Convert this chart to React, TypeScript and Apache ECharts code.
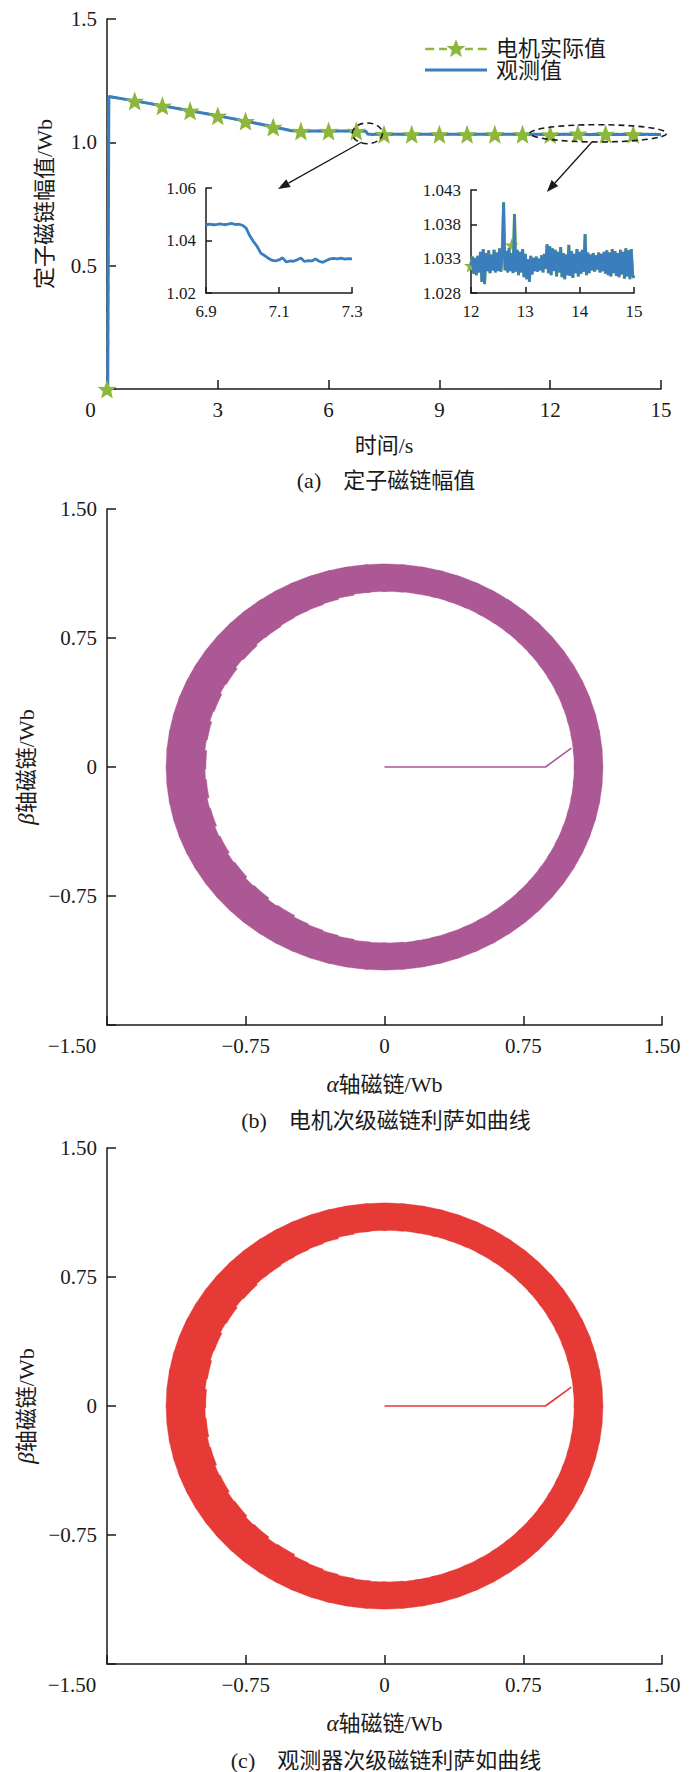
import React, { useEffect, useRef } from 'react';
import * as echarts from 'echarts';

const SERIF = "'Liberation Serif', 'Noto Sans CJK SC', serif";
const INK = '#1a1a1a';
const BLUE = '#3A7EBE';
const GREEN = '#8CB63C';
const PURPLE = '#AC5894';
const RED = '#E53A36';

// ---------- (a) stator flux magnitude ----------
const legendNames = ['电机实际值', '观测值'];
const mainXTicks = [0, 3, 6, 9, 12, 15];
const mainYTicks = [0, 0.5, 1.0, 1.5];

// observed (blue) – coarse head part
const obsHeadT = [0, 0.02, 0.05, 0.75, 1.5, 2.25, 3.0, 3.75, 4.5, 5.0, 5.5, 6.0, 6.5];
const obsHeadV = [0, 0, 1.186, 1.168, 1.148, 1.128, 1.108, 1.086, 1.063, 1.047, 1.046, 1.046, 1.046];
// observed between the two zoomed windows
const obsMidT = [7.6, 8.6, 9.6, 10.6, 11.6];
const obsMidV = [1.0331, 1.0329, 1.0331, 1.033, 1.0329];

// zoom window 1 (6.9 – 7.3 s), sampled every 0.01 s
const zoom1Start = 6.9;
const zoom1Step = 0.01;
const zoom1V = [
  1.0460, 1.0462, 1.0460, 1.0461, 1.0463, 1.0460, 1.0462, 1.0465, 1.0461, 1.0462,
  1.0458, 1.0447, 1.0418, 1.0396, 1.0378, 1.0352, 1.0343, 1.0333, 1.0325, 1.0322,
  1.0326, 1.0334, 1.0318, 1.0322, 1.0321, 1.0327, 1.0333, 1.0320, 1.0323, 1.0322,
  1.0330, 1.0321, 1.0317, 1.0324, 1.0330, 1.0332, 1.0330, 1.0333, 1.0329, 1.0331,
  1.0330,
];
const zoom1XTicks = [6.9, 7.1, 7.3];
const zoom1YTicks = [1.02, 1.04, 1.06];

// zoom window 2 (12 – 15 s), sampled every 0.025 s
const zoom2Start = 12;
const zoom2Step = 0.025;
const zoom2V = [
  1.0320, 1.0333, 1.0308, 1.0331, 1.0306, 1.0334, 1.0310, 1.0340, 1.0296, 1.0344,
  1.0293, 1.0338, 1.0312, 1.0342, 1.0309, 1.0336, 1.0313, 1.0343, 1.0310, 1.0339,
  1.0312, 1.0345, 1.0311, 1.0337, 1.0412, 1.0313, 1.0341, 1.0310, 1.0345, 1.0312,
  1.0338, 1.0309, 1.0395, 1.0311, 1.0343, 1.0306, 1.0340, 1.0310, 1.0344, 1.0303,
  1.0337, 1.0300, 1.0329, 1.0296, 1.0334, 1.0307, 1.0331, 1.0312, 1.0333, 1.0311,
  1.0330, 1.0313, 1.0335, 1.0310, 1.0337, 1.0315, 1.0351, 1.0309, 1.0348, 1.0306,
  1.0345, 1.0312, 1.0343, 1.0304, 1.0340, 1.0310, 1.0347, 1.0303, 1.0338, 1.0300,
  1.0336, 1.0306, 1.0350, 1.0305, 1.0341, 1.0302, 1.0337, 1.0309, 1.0344, 1.0304,
  1.0340, 1.0308, 1.0343, 1.0311, 1.0366, 1.0306, 1.0339, 1.0309, 1.0336, 1.0313,
  1.0338, 1.0311, 1.0335, 1.0314, 1.0339, 1.0310, 1.0337, 1.0312, 1.0340, 1.0308,
  1.0342, 1.0306, 1.0339, 1.0304, 1.0344, 1.0309, 1.0341, 1.0305, 1.0338, 1.0303,
  1.0343, 1.0307, 1.0340, 1.0301, 1.0345, 1.0304, 1.0342, 1.0300, 1.0344, 1.0306,
  1.0302,
];
const zoom2XTicks = [12, 13, 14, 15];
const zoom2YTicks = [1.028, 1.033, 1.038, 1.043];

// actual (green) – dashed line and star markers
const actualT = [0, 0.02, 0.05, 0.75, 1.5, 2.25, 3.0, 3.75, 4.5, 5.0, 5.25, 6.0, 6.75, 7.0, 7.1, 7.5, 9.0, 12.0, 15.0];
const actualV = [0, 0, 1.186, 1.168, 1.148, 1.128, 1.108, 1.086, 1.062, 1.047, 1.046, 1.046, 1.046, 1.045, 1.033, 1.033, 1.033, 1.032, 1.033];
const starT = [0, 0.75, 1.5, 2.25, 3.0, 3.75, 4.5, 5.25, 6.0, 6.75, 7.5, 8.25, 9.0, 9.75, 10.5, 11.25, 12.0, 12.75, 13.5, 14.25];
const starV = [0, 1.168, 1.148, 1.128, 1.108, 1.086, 1.062, 1.046, 1.046, 1.046, 1.033, 1.033, 1.033, 1.033, 1.033, 1.033, 1.032, 1.035, 1.0335, 1.033];

// annotations (data coordinates of main plot)
const ellipseCenters = [[7.05, 1.0365], [13.3, 1.0365]];
const ellipseHalf = [[0.41, 0.042], [1.85, 0.035]];
const arrowFrom = [[6.9, 1.0014], [13.13, 1.0014]];
const arrowTo = [[4.63, 0.811], [11.91, 0.799]];

// ---------- (b)(c) Lissajous ----------
const lissTicks = [-1.5, -0.75, 0, 0.75, 1.5];
const startPathX = [0, 0.87, 1.01];
const startPathY = [0, 0, 0.11];
const ringOuter = 1.18;
const ringAngleStep = 5;
const ringAngles = Array.from({ length: 72 }, (_, i) => i * ringAngleStep);
const ringInnerB = [
  1.025, 1.025, 1.025, 1.025, 1.025, 1.025, 1.025, 1.025, 1.025, 1.025,
  1.025, 1.024, 1.024, 1.023, 1.023, 1.022, 1.022, 1.021, 1.020, 1.018,
  1.012, 1.005, 1.000, 0.998, 0.995, 0.990, 0.992, 0.985, 0.990, 0.980,
  0.985, 0.975, 0.980, 0.970, 0.975, 0.965, 0.970, 0.965, 0.975, 0.970,
  0.980, 0.975, 0.985, 0.980, 0.990, 0.985, 0.995, 0.990, 1.000, 1.005,
  1.010, 1.015, 1.020, 1.022, 1.023, 1.025, 1.025, 1.025, 1.025, 1.025,
  1.025, 1.025, 1.025, 1.025, 1.025, 1.025, 1.025, 1.025, 1.025, 1.025,
  1.025, 1.025,
];
const ringInnerC = [
  1.025, 1.025, 1.025, 1.025, 1.025, 1.025, 1.025, 1.025, 1.025, 1.025,
  1.025, 1.024, 1.024, 1.023, 1.023, 1.022, 1.022, 1.021, 1.020, 1.017,
  1.012, 1.004, 1.000, 0.996, 0.994, 0.990, 0.991, 0.984, 0.988, 0.980,
  0.984, 0.975, 0.978, 0.970, 0.974, 0.966, 0.970, 0.966, 0.974, 0.970,
  0.979, 0.975, 0.984, 0.980, 0.989, 0.985, 0.994, 0.990, 1.000, 1.004,
  1.010, 1.015, 1.019, 1.022, 1.023, 1.025, 1.025, 1.025, 1.025, 1.025,
  1.025, 1.025, 1.025, 1.025, 1.025, 1.025, 1.025, 1.025, 1.025, 1.025,
  1.025, 1.025,
];

const captions = ['(a)    定子磁链幅值', '(b)    电机次级磁链利萨如曲线', '(c)    观测器次级磁链利萨如曲线'];

// ---------- helpers ----------
const STAR_PATH =
  'path://M31,0 L33.6,7.1 L40.51,6.91 L35.2,11.4 L36.88,18.09 L31,14.4 L25.12,18.09 L26.8,11.4 L21.49,6.91 L28.4,7.1 Z';
const LEGEND_STAR_ICON =
  'path://M0,8.8 h9 v2.6 h-9 Z M14,8.8 h8 v2.6 h-8 Z M40,8.8 h8 v2.6 h-8 Z M53,8.8 h9 v2.6 h-9 Z ' +
  'M31,0 L33.6,7.1 L40.51,6.91 L35.2,11.4 L36.88,18.09 L31,14.4 L25.12,18.09 L26.8,11.4 L21.49,6.91 L28.4,7.1 Z';
const LEGEND_LINE_ICON = 'path://M0,0 h62 v3 h-62 Z';

const pairs = (xs: number[], ys: number[]) => xs.map((x, i) => [x, ys[i]]);
const sampled = (start: number, step: number, vs: number[]) => vs.map((v, i) => [+(start + i * step).toFixed(4), v]);
const liss = (v: number) => (Math.abs(v) < 1e-9 ? '0' : (v < 0 ? '\u2212' : '') + Math.abs(v).toFixed(2));

function valueAxis(gridIndex: number, ticks: number[], fmt: (v: number) => string, fontSize: number, tickLen: number, extra: any = {}) {
  return {
    type: 'value',
    gridIndex,
    min: ticks[0],
    max: ticks[ticks.length - 1],
    axisLine: { show: true, onZero: false, lineStyle: { color: INK, width: 1.5 } },
    axisTick: { show: true, inside: true, length: tickLen, customValues: ticks, lineStyle: { color: INK, width: 1.5 } },
    axisLabel: {
      customValues: ticks,
      formatter: fmt,
      fontSize,
      fontFamily: SERIF,
      color: INK,
      margin: 10,
      ...(extra.axisLabel || {}),
    },
    splitLine: { show: false },
    ...Object.fromEntries(Object.entries(extra).filter(([k]) => k !== 'axisLabel')),
  };
}

function ringSeries(axisIndex: number, inner: number[], color: string) {
  return {
    type: 'custom',
    xAxisIndex: axisIndex,
    yAxisIndex: axisIndex,
    silent: true,
    data: ringAngles.map((a, i) => [a, inner[i]]),
    encode: { x: 0, y: 1 },
    renderItem: (_params: any, api: any) => {
      const a0 = api.value(0);
      const rIn = api.value(1);
      const from = ((a0 - 0.7) * Math.PI) / 180;
      const to = ((a0 + ringAngleStep + 0.7) * Math.PI) / 180;
      const n = 6;
      const pts: number[][] = [];
      for (let k = 0; k <= n; k++) {
        const t = from + ((to - from) * k) / n;
        pts.push(api.coord([ringOuter * Math.cos(t), ringOuter * Math.sin(t)]));
      }
      for (let k = n; k >= 0; k--) {
        const t = from + ((to - from) * k) / n;
        pts.push(api.coord([rIn * Math.cos(t), rIn * Math.sin(t)]));
      }
      return { type: 'polygon', shape: { points: pts }, style: { fill: color, stroke: color, lineWidth: 0.4 } };
    },
    z: 2,
  };
}

function buildOption() {
  const mainObs = [
    ...pairs(obsHeadT, obsHeadV),
    ...sampled(zoom1Start, zoom1Step, zoom1V),
    ...pairs(obsMidT, obsMidV),
    ...sampled(zoom2Start, zoom2Step, zoom2V),
  ];
  const stars = pairs(starT, starV);
  const zoom2Stars = stars.filter((p) => p[0] >= 12 && p[0] <= 15);

  const nameStyle = { fontSize: 22, fontFamily: SERIF, color: INK };
  const lissNameRich = { i: { fontStyle: 'italic', fontFamily: SERIF, fontSize: 23, color: INK } };

  return {
    animation: false,
    backgroundColor: '#ffffff',
    legend: {
      orient: 'vertical',
      left: 425,
      top: 37,
      padding: 0,
      itemWidth: 62,
      itemHeight: 18,
      itemGap: 0,
      textStyle: { fontSize: 22, fontFamily: SERIF, color: INK, padding: [0, 0, 0, 4], lineHeight: 21 },
      data: [
        { name: legendNames[0], icon: LEGEND_STAR_ICON, itemStyle: { color: GREEN, borderWidth: 0 } },
        { name: legendNames[1], icon: LEGEND_LINE_ICON, itemStyle: { color: BLUE, borderWidth: 0 } },
      ],
      selectedMode: false,
    },
    grid: [
      { left: 107, top: 19, width: 554, height: 370, outerBoundsMode: 'none' },
      { left: 206, top: 188, width: 146, height: 105, outerBoundsMode: 'none' },
      { left: 471, top: 190, width: 163, height: 103, outerBoundsMode: 'none' },
      { left: 107, top: 509, width: 555, height: 516, outerBoundsMode: 'none' },
      { left: 107, top: 1148, width: 555, height: 516, outerBoundsMode: 'none' },
    ],
    xAxis: [
      valueAxis(0, mainXTicks, (v) => (v === 0 ? '{m|0}' : String(v)), 21, 9, {
        axisLabel: { rich: { m: { padding: [0, 33, 0, 0], fontSize: 21, fontFamily: SERIF, color: INK } } },
        name: '时间/s',
        nameLocation: 'middle',
        nameGap: 45,
        nameTextStyle: nameStyle,
      }),
      valueAxis(1, zoom1XTicks, (v) => v.toFixed(1), 17, 6),
      valueAxis(2, zoom2XTicks, (v) => v.toFixed(0), 17, 6),
      valueAxis(3, lissTicks, (v) => (v === -1.5 ? '{m|' + liss(v) + '}' : liss(v)), 21, 9, {
        axisLabel: { rich: { m: { padding: [0, 70, 0, 0], fontSize: 21, fontFamily: SERIF, color: INK } } },
        name: '{i|α}轴磁链/Wb',
        nameLocation: 'middle',
        nameGap: 48,
        nameTextStyle: { ...nameStyle, rich: lissNameRich },
      }),
      valueAxis(4, lissTicks, (v) => (v === -1.5 ? '{m|' + liss(v) + '}' : liss(v)), 21, 9, {
        axisLabel: { rich: { m: { padding: [0, 70, 0, 0], fontSize: 21, fontFamily: SERIF, color: INK } } },
        name: '{i|α}轴磁链/Wb',
        nameLocation: 'middle',
        nameGap: 48,
        nameTextStyle: { ...nameStyle, rich: lissNameRich },
      }),
    ],
    yAxis: [
      valueAxis(0, mainYTicks, (v) => (v === 0 ? '' : v.toFixed(1)), 21, 9, {
        name: '定子磁链幅值/Wb',
        nameLocation: 'middle',
        nameRotate: 90,
        nameGap: 52,
        nameTextStyle: nameStyle,
      }),
      valueAxis(1, zoom1YTicks, (v) => v.toFixed(2), 17, 6),
      valueAxis(2, zoom2YTicks, (v) => v.toFixed(3), 17, 6),
      valueAxis(3, lissTicks, (v) => (v === -1.5 ? '' : liss(v)), 21, 9, {
        name: '{i|β}轴磁链/Wb',
        nameLocation: 'middle',
        nameRotate: 90,
        nameGap: 61,
        nameTextStyle: { ...nameStyle, rich: lissNameRich },
      }),
      valueAxis(4, lissTicks, (v) => (v === -1.5 ? '' : liss(v)), 21, 9, {
        name: '{i|β}轴磁链/Wb',
        nameLocation: 'middle',
        nameRotate: 90,
        nameGap: 61,
        nameTextStyle: { ...nameStyle, rich: lissNameRich },
      }),
    ],
    series: [
      {
        name: legendNames[0],
        type: 'line',
        xAxisIndex: 0,
        yAxisIndex: 0,
        data: pairs(actualT, actualV),
        showSymbol: false,
        symbol: 'none',
        lineStyle: { color: GREEN, width: 2.5, type: [8, 6] },
        itemStyle: { color: GREEN },
        z: 2,
      },
      {
        name: legendNames[1],
        type: 'line',
        xAxisIndex: 0,
        yAxisIndex: 0,
        data: mainObs,
        showSymbol: false,
        symbol: 'none',
        lineStyle: { color: BLUE, width: 3 },
        itemStyle: { color: BLUE },
        z: 3,
      },
      {
        name: legendNames[0],
        type: 'scatter',
        xAxisIndex: 0,
        yAxisIndex: 0,
        data: stars,
        symbol: STAR_PATH,
        symbolSize: 19,
        itemStyle: { color: GREEN, opacity: 1 },
        clip: false,
        z: 4,
      },
      {
        type: 'line',
        xAxisIndex: 1,
        yAxisIndex: 1,
        data: sampled(zoom1Start, zoom1Step, zoom1V),
        showSymbol: false,
        symbol: 'none',
        lineStyle: { color: BLUE, width: 2.8 },
        z: 3,
      },
      {
        type: 'line',
        xAxisIndex: 2,
        yAxisIndex: 2,
        data: sampled(zoom2Start, zoom2Step, zoom2V),
        showSymbol: false,
        symbol: 'none',
        lineStyle: { color: GREEN, width: 3.1 },
        z: 2,
      },
      {
        type: 'scatter',
        xAxisIndex: 2,
        yAxisIndex: 2,
        data: zoom2Stars,
        symbol: STAR_PATH,
        symbolSize: 14,
        itemStyle: { color: GREEN, opacity: 1 },
        clip: false,
        z: 2,
      },
      {
        type: 'line',
        xAxisIndex: 2,
        yAxisIndex: 2,
        data: sampled(zoom2Start, zoom2Step, zoom2V),
        showSymbol: false,
        symbol: 'none',
        lineStyle: { color: BLUE, width: 2.6 },
        z: 3,
      },
      ringSeries(3, ringInnerB, PURPLE),
      {
        type: 'line',
        xAxisIndex: 3,
        yAxisIndex: 3,
        data: pairs(startPathX, startPathY),
        showSymbol: false,
        symbol: 'none',
        lineStyle: { color: PURPLE, width: 1.6 },
        z: 3,
      },
      ringSeries(4, ringInnerC, RED),
      {
        type: 'line',
        xAxisIndex: 4,
        yAxisIndex: 4,
        data: pairs(startPathX, startPathY),
        showSymbol: false,
        symbol: 'none',
        lineStyle: { color: RED, width: 1.6 },
        z: 3,
      },
    ],
  };
}

export default function App() {
  const ref = useRef<HTMLDivElement>(null);
  useEffect(() => {
    document.body.style.margin = '0';
    const chart = echarts.init(ref.current!, null, { renderer: 'svg' });
    chart.setOption(buildOption() as any);

    const px = (pt: number[]) => chart.convertToPixel({ xAxisIndex: 0, yAxisIndex: 0 }, pt) as number[];
    const graphics: any[] = [];
    ellipseCenters.forEach((c, i) => {
      const p = px(c);
      const pr = px([c[0] + ellipseHalf[i][0], c[1] + ellipseHalf[i][1]]);
      graphics.push({
        type: 'ellipse',
        shape: { cx: p[0], cy: p[1], rx: Math.abs(pr[0] - p[0]), ry: Math.abs(p[1] - pr[1]) },
        style: { fill: 'none', stroke: INK, lineWidth: 1.6, lineDash: [6, 4] },
        z: 10,
      });
    });
    arrowFrom.forEach((f, i) => {
      const a = px(f);
      const b = px(arrowTo[i]);
      const dx = b[0] - a[0];
      const dy = b[1] - a[1];
      const len = Math.hypot(dx, dy);
      const ux = dx / len;
      const uy = dy / len;
      const hl = 12;
      const hw = 4.5;
      const base = [b[0] - ux * hl, b[1] - uy * hl];
      graphics.push({
        type: 'line',
        shape: { x1: a[0], y1: a[1], x2: base[0], y2: base[1] },
        style: { stroke: INK, lineWidth: 1.3 },
        z: 10,
      });
      graphics.push({
        type: 'polygon',
        shape: {
          points: [
            [b[0], b[1]],
            [base[0] - uy * hw, base[1] + ux * hw],
            [base[0] + uy * hw, base[1] - ux * hw],
          ],
        },
        style: { fill: INK },
        z: 10,
      });
    });
    const capY = [480, 1120, 1760];
    captions.forEach((t, i) => {
      graphics.push({
        type: 'text',
        x: 386,
        y: capY[i],
        style: { text: t, fill: INK, fontSize: 22, fontFamily: SERIF, align: 'center', verticalAlign: 'middle' },
        z: 10,
      });
    });
    chart.setOption({ graphic: graphics });
    return () => chart.dispose();
  }, []);
  return <div ref={ref} style={{ width: 700, height: 1772 }} />;
}
